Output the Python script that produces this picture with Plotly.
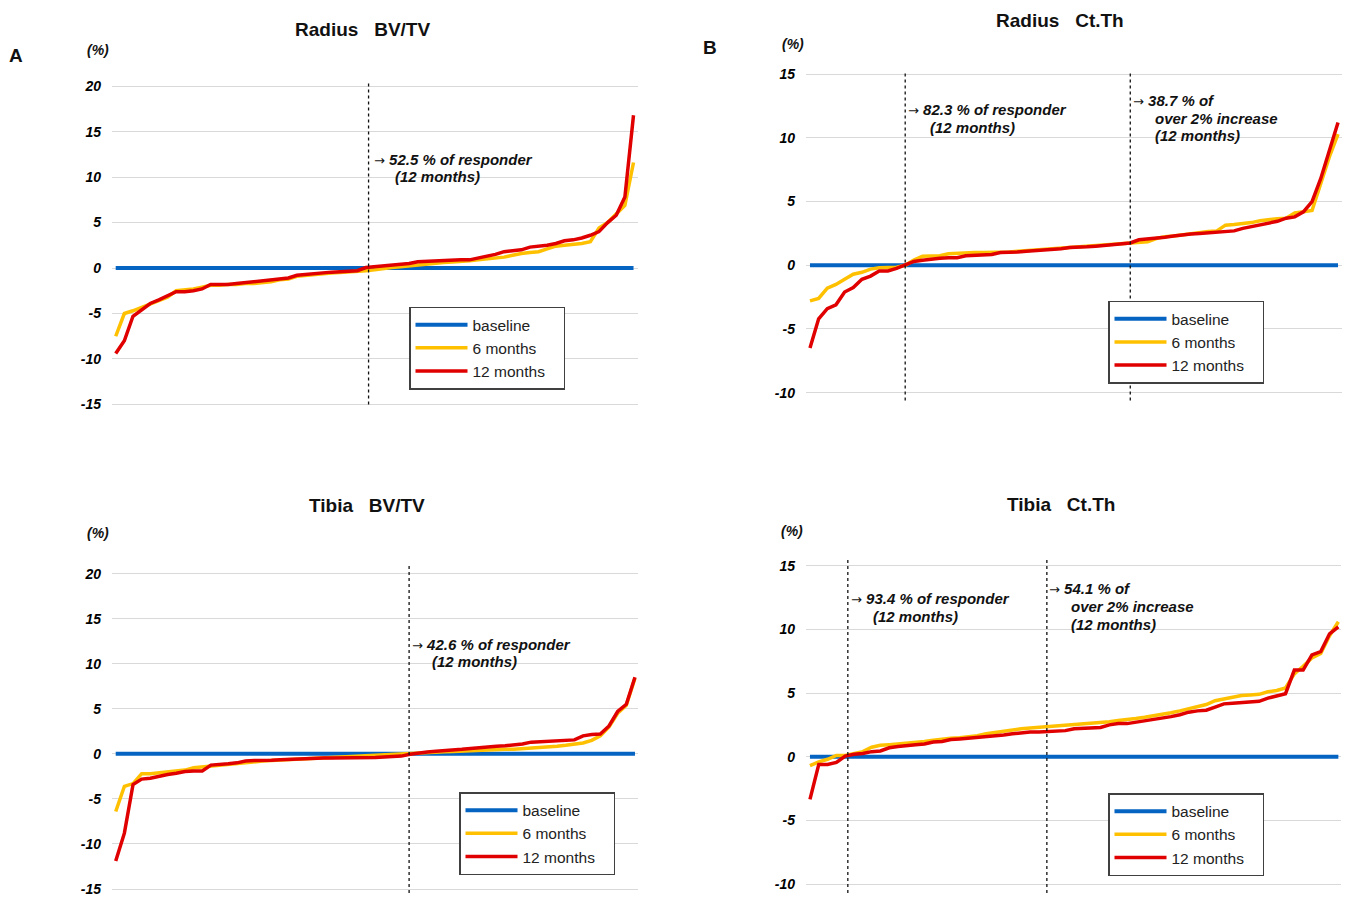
import plotly.graph_objects as go

# ---------------- data (sorted % change per subject) ----------------
series_names = ["baseline", "6 months", "12 months"]

radius_bvtv_6m = [-7.5, -5.0, -4.7, -4.3, -3.9, -3.6, -3.2, -2.5, -2.4, -2.3,
                  -2.1, -1.9, -1.9, -1.8, -1.8, -1.7, -1.7, -1.6, -1.5, -1.3,
                  -1.2, -0.9, -0.8, -0.7, -0.6, -0.55, -0.5, -0.45, -0.4, -0.3,
                  -0.2, -0.05, 0.05, 0.15, 0.25, 0.35, 0.4, 0.5, 0.6, 0.65,
                  0.7, 0.8, 0.9, 1.0, 1.1, 1.2, 1.4, 1.6, 1.7, 1.8,
                  2.1, 2.4, 2.5, 2.6, 2.7, 2.9, 4.4, 5.0, 6.0, 6.9,
                  11.6]
radius_bvtv_12m = [-9.4, -8.0, -5.3, -4.6, -3.9, -3.5, -3.0, -2.6, -2.6, -2.5,
                   -2.3, -1.8, -1.8, -1.8, -1.7, -1.6, -1.5, -1.4, -1.3, -1.2,
                   -1.1, -0.8, -0.7, -0.6, -0.5, -0.45, -0.4, -0.35, -0.3, 0.05,
                   0.15, 0.2, 0.3, 0.4, 0.5, 0.7, 0.75, 0.8, 0.85, 0.85,
                   0.9, 0.9, 1.1, 1.3, 1.5, 1.8, 1.9, 2.0, 2.3, 2.4,
                   2.5, 2.7, 3.0, 3.1, 3.3, 3.6, 4.0, 5.0, 5.8, 7.8,
                   16.8]

radius_ctth_6m = [-2.8, -2.6, -1.8, -1.5, -1.1, -0.7, -0.55, -0.3, -0.2, -0.2,
                  -0.15, 0.0, 0.4, 0.7, 0.7, 0.75, 0.9, 0.95, 1.0, 1.0,
                  1.0, 1.0, 1.05, 1.05, 1.1, 1.15, 1.15, 1.2, 1.25, 1.3,
                  1.35, 1.4, 1.45, 1.5, 1.55, 1.6, 1.65, 1.7, 1.75, 1.85,
                  2.1, 2.25, 2.3, 2.4, 2.5, 2.6, 2.65, 2.7, 3.15, 3.2,
                  3.25, 3.35, 3.5, 3.6, 3.65, 3.7, 4.1, 4.2, 4.3, 6.4,
                  8.5, 10.3]
radius_ctth_12m = [-6.5, -4.2, -3.4, -3.1, -2.1, -1.75, -1.1, -0.85, -0.45, -0.45,
                   -0.25, 0.0, 0.3, 0.4, 0.5, 0.55, 0.6, 0.6, 0.75, 0.8,
                   0.85, 0.85, 1.0, 1.0, 1.05, 1.1, 1.15, 1.15, 1.2, 1.3,
                   1.4, 1.4, 1.45, 1.5, 1.55, 1.6, 1.65, 1.75, 2.0, 2.05,
                   2.15, 2.2, 2.3, 2.4, 2.45, 2.5, 2.55, 2.6, 2.7, 2.7,
                   2.9, 3.05, 3.2, 3.3, 3.45, 3.7, 3.8, 4.2, 5.0, 6.8,
                   9.0, 11.2]

tibia_bvtv_6m = [-6.4, -3.6, -3.3, -2.2, -2.2, -2.1, -2.0, -1.9, -1.8, -1.55,
                 -1.45, -1.35, -1.25, -1.15, -1.05, -0.95, -0.85, -0.8, -0.75, -0.7,
                 -0.65, -0.6, -0.55, -0.5, -0.45, -0.4, -0.35, -0.3, -0.25, -0.2,
                 -0.15, -0.1, 0.0, 0.05, 0.1, 0.12, 0.15, 0.2, 0.22, 0.25,
                 0.3, 0.35, 0.4, 0.4, 0.45, 0.5, 0.5, 0.55, 0.6, 0.7,
                 0.75, 0.85, 0.95, 1.05, 1.2, 1.5, 2.0, 3.0, 4.5, 5.4,
                 8.4]
tibia_bvtv_12m = [-11.9, -8.8, -3.4, -2.8, -2.7, -2.45, -2.3, -2.15, -1.95, -1.9,
                  -1.9, -1.25, -1.2, -1.1, -1.0, -0.8, -0.75, -0.75, -0.7, -0.65,
                  -0.6, -0.55, -0.5, -0.5, -0.45, -0.45, -0.45, -0.45, -0.45, -0.45,
                  -0.4, -0.35, -0.3, -0.25, -0.05, 0.1, 0.2, 0.3, 0.35, 0.45,
                  0.5, 0.6, 0.7, 0.8, 0.85, 0.9, 1.0, 1.1, 1.3, 1.35,
                  1.4, 1.5, 1.55, 1.55, 2.0, 2.15, 2.2, 3.1, 4.7, 5.5,
                  8.5]

tibia_ctth_6m = [-0.7, -0.4, -0.2, 0.1, 0.1, 0.25, 0.4, 0.75, 0.9, 0.95,
                 1.0, 1.05, 1.1, 1.2, 1.3, 1.4, 1.45, 1.5, 1.55, 1.65,
                 1.8, 1.9, 2.05, 2.15, 2.2, 2.25, 2.3, 2.4, 2.45, 2.5,
                 2.55, 2.6, 2.65, 2.7, 2.75, 2.85, 2.9, 3.0, 3.1, 3.2,
                 3.3, 3.45, 3.6, 3.75, 3.9, 4.1, 4.4, 4.55, 4.7, 4.8,
                 4.85, 4.9, 5.1, 5.2, 5.4, 6.5, 7.1, 7.75, 8.1, 9.5,
                 10.6]
tibia_ctth_12m = [-3.35, -0.6, -0.6, -0.45, 0.05, 0.2, 0.25, 0.4, 0.45, 0.7,
                  0.8, 0.9, 0.95, 1.0, 1.15, 1.2, 1.35, 1.4, 1.45, 1.55,
                  1.6, 1.65, 1.7, 1.8, 1.9, 1.95, 1.95, 2.0, 2.05, 2.05,
                  2.2, 2.25, 2.3, 2.3, 2.5, 2.6, 2.6, 2.7, 2.85, 2.95,
                  3.05, 3.15, 3.3, 3.5, 3.6, 3.65, 3.9, 4.15, 4.2, 4.25,
                  4.3, 4.35, 4.6, 4.8, 4.95, 6.8, 6.8, 8.0, 8.25, 9.65,
                  10.2]

# cut-off positions (subject rank) of the dotted lines
radius_bvtv_cuts = [29.3]
radius_ctth_cuts = [11.0, 37.0]
tibia_bvtv_cuts = [33.9]
tibia_ctth_cuts = [4.3, 26.9]

bvtv_ticks = [-15, -10, -5, 0, 5, 10, 15, 20]
bvtv_ticktext = ["-15", "-10", "-5", "0", "5", "10", "15", "20"]
ctth_ticks = [-10, -5, 0, 5, 10, 15]
ctth_ticktext = ["-10", "-5", "0", "5", "10", "15"]

titles = ["Radius\u00a0\u00a0\u00a0BV/TV", "Radius\u00a0\u00a0\u00a0Ct.Th",
          "Tibia\u00a0\u00a0\u00a0BV/TV", "Tibia\u00a0\u00a0\u00a0Ct.Th"]

notes_a = [("→ 52.5 % of responder", "(12 months)")]
notes_b = [("→ 82.3 % of responder", "(12 months)"),
           ("→ 38.7 % of", "over 2% increase", "(12 months)")]
notes_c = [("→ 42.6 % of responder", "(12 months)")]
notes_d = [("→ 93.4 % of responder", "(12 months)"),
           ("→ 54.1 % of", "over 2% increase", "(12 months)")]

# ---------------- layout helpers ----------------
W, H = 1347, 898
FONT = "Liberation Sans, Arial, sans-serif"
C_BASE, C_6M, C_12M = "#0563c1", "#ffc000", "#e00000"


def fx(p):
    return p / W


def fy(p):
    return 1 - p / H


panels = [
    dict(m6=radius_bvtv_6m, m12=radius_bvtv_12m, cuts=radius_bvtv_cuts,
         ticks=bvtv_ticks, ticktext=bvtv_ticktext, title=titles[0],
         xdom=(112, 638), ydom=(79, 407), xr=(-0.43, 60.52), yr=(-15.33, 20.33),
         vline_px=(79, 404), title_px=(362, 25), pct_px=(98, 46),
         legend_px=(409, 305),
         notes=notes_a, note_px=[[(374, 156), (395, 173)]]),
    dict(m6=radius_ctth_6m, m12=radius_ctth_12m, cuts=radius_ctth_cuts,
         ticks=ctth_ticks, ticktext=ctth_ticktext, title=titles[1],
         xdom=(806, 1342), ydom=(67, 395), xr=(-0.46, 61.46), yr=(-10.23, 15.23),
         vline_px=(68, 400), title_px=(1060, 16), pct_px=(793, 39),
         legend_px=(1108, 299),
         notes=notes_b,
         note_px=[[(908, 106), (930, 124)],
                  [(1133, 97), (1155, 115), (1155, 132)]]),
    dict(m6=tibia_bvtv_6m, m12=tibia_bvtv_12m, cuts=tibia_bvtv_cuts,
         ticks=bvtv_ticks, ticktext=bvtv_ticktext, title=titles[2],
         xdom=(112, 638), ydom=(572, 897), xr=(-0.43, 60.35), yr=(-15.33, 20.33),
         vline_px=(567, 898), title_px=(367, 506), pct_px=(98, 534),
         legend_px=(459, 796),
         notes=notes_c, note_px=[[(412, 647), (432, 664)]]),
    dict(m6=tibia_ctth_6m, m12=tibia_ctth_12m, cuts=tibia_ctth_cuts,
         ticks=ctth_ticks, ticktext=ctth_ticktext, title=titles[3],
         xdom=(806, 1341), ydom=(564, 892), xr=(-0.45, 60.3), yr=(-10.23, 15.23),
         vline_px=(560, 898), title_px=(1061, 505), pct_px=(792, 532),
         legend_px=(1108, 797),
         notes=notes_d,
         note_px=[[(851, 600), (873, 618)],
                  [(1049, 590), (1071, 608), (1071, 626)]]),
]

fig = go.Figure()
annotations = []
shapes = []
layout_axes = {}

for i, p in enumerate(panels):
    k = "" if i == 0 else str(i + 1)
    xa, ya = "x" + k, "y" + k
    leg = "legend" + k
    n = len(p["m12"])
    idx = list(range(n))
    baseline = [0.0] * n
    for name, vals, col, w in [(series_names[0], baseline, C_BASE, 4),
                               (series_names[1], p["m6"], C_6M, 3.5),
                               (series_names[2], p["m12"], C_12M, 3.5)]:
        fig.add_trace(go.Scatter(x=idx, y=vals, mode="lines",
                                 name=name + "\u00a0\u00a0\u00a0",
                                 line=dict(color=col, width=w),
                                 xaxis=xa, yaxis=ya, legend=leg,
                                 hoverinfo="skip"))

    layout_axes["xaxis" + k] = dict(
        domain=[fx(p["xdom"][0]), fx(p["xdom"][1])], range=list(p["xr"]),
        anchor=ya, showgrid=False, zeroline=False, showline=False,
        showticklabels=False, ticks="")
    layout_axes["yaxis" + k] = dict(
        domain=[fy(p["ydom"][1]), fy(p["ydom"][0])], range=list(p["yr"]),
        anchor=xa, tickvals=p["ticks"], ticktext=p["ticktext"],
        showgrid=True, gridcolor="#d9d9d9", gridwidth=1.3, zeroline=False,
        showline=False, ticks="", ticklabelstandoff=10,
        tickfont=dict(family=FONT, size=14, color="#000",
                      weight="bold", style="italic"))

    layout_axes[leg] = dict(
        x=fx(p["legend_px"][0]), y=fy(p["legend_px"][1]),
        xanchor="left", yanchor="top", xref="paper", yref="paper",
        bgcolor="white", bordercolor="#404040", borderwidth=1.5,
        font=dict(family=FONT, size=15.5, color="#222"),
        itemwidth=52, tracegroupgap=0, traceorder="normal")

    for c in p["cuts"]:
        shapes.append(dict(type="line", xref=xa, yref="paper",
                           x0=c, x1=c, y0=fy(p["vline_px"][1]),
                           y1=fy(p["vline_px"][0]),
                           line=dict(color="#111", width=1.3, dash="dot")))

    annotations.append(dict(text="<b>" + p["title"] + "</b>", xref="paper",
                            yref="paper", x=fx(p["title_px"][0]),
                            y=fy(p["title_px"][1]), xanchor="center",
                            yanchor="middle", showarrow=False,
                            font=dict(family=FONT, size=19, color="#111")))
    annotations.append(dict(text="(%)", xref="paper", yref="paper",
                            x=fx(p["pct_px"][0]), y=fy(p["pct_px"][1]),
                            xanchor="center", yanchor="middle",
                            showarrow=False,
                            font=dict(family=FONT, size=14, color="#111",
                                      weight="bold", style="italic")))
    for lines, pos in zip(p["notes"], p["note_px"]):
        for txt, (px_, py_) in zip(lines, pos):
            if txt.startswith("→"):
                shown = ("<span style='font-weight:normal;font-style:normal;"
                         "font-family:DejaVu Sans;font-size:13px'>→</span> " + txt[2:])
            else:
                shown = txt
            annotations.append(dict(text=shown,
                                    xref="paper", yref="paper",
                                    x=fx(px_ - 2), y=fy(py_),
                                    xanchor="left", yanchor="middle",
                                    showarrow=False,
                                    font=dict(family=FONT, size=15, color="#111",
                                              weight="bold", style="italic")))

annotations.append(dict(text="<b>A</b>", xref="paper", yref="paper",
                        x=fx(16), y=fy(51), xanchor="center", yanchor="middle",
                        showarrow=False, font=dict(family=FONT, size=19, color="#111")))
annotations.append(dict(text="<b>B</b>", xref="paper", yref="paper",
                        x=fx(710), y=fy(43), xanchor="center", yanchor="middle",
                        showarrow=False, font=dict(family=FONT, size=19, color="#111")))

fig.update_layout(width=W, height=H, margin=dict(l=0, r=0, t=0, b=0),
                  paper_bgcolor="white", plot_bgcolor="white",
                  showlegend=True, annotations=annotations, shapes=shapes,
                  **layout_axes)

post = ("document.body.style.margin='0px';"
        "document.body.style.padding='0px';"
        "document.body.style.overflow='hidden';"
        "var gd=document.getElementById('{plot_id}');"
        "gd.style.position='absolute';gd.style.left='0px';gd.style.top='0px';")

fig.write_html("out.html", post_script=post, config={"displayModeBar": False})
